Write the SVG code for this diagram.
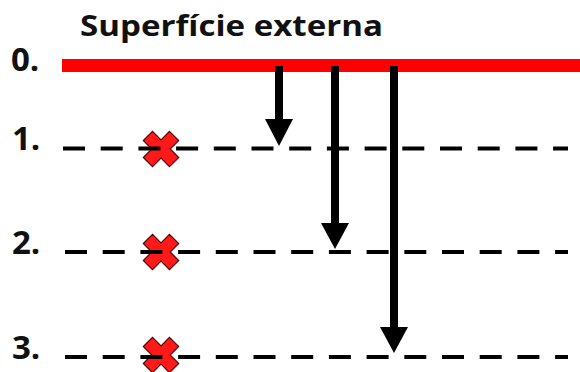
<svg xmlns="http://www.w3.org/2000/svg" width="580" height="372" viewBox="0 0 580 372">
<defs>
<style>
.lbl{font-family:"Open Sans","Liberation Sans",Arial,sans-serif;font-weight:bold;fill:#111}
.dash{stroke:#000;stroke-width:4;stroke-dasharray:22 15.7;fill:none}
.shaft{stroke:#000;stroke-width:8;fill:none}
.head{fill:#000}
.x{fill:#ff1a1a;stroke:#5a0000;stroke-width:1.2}
</style>
<polygon id="cross" class="x" transform="rotate(45)" points="-6.5,-18.5 6.5,-18.5 6.5,-6.5 18.5,-6.5 18.5,6.5 6.5,6.5 6.5,18.5 -6.5,18.5 -6.5,6.5 -18.5,6.5 -18.5,-6.5 -6.5,-6.5"/>
</defs>
<rect width="580" height="372" fill="#fff"/>
<text class="lbl" x="80" y="36" font-size="29" textLength="303" lengthAdjust="spacingAndGlyphs">Superfície externa</text>
<g id="level0">
<text class="lbl" x="11" y="71" font-size="33">0.</text>
<line x1="62" y1="65.5" x2="580" y2="65.5" stroke="#ff0000" stroke-width="13"/>
</g>
<g id="marker1"><use href="#cross" x="161" y="149"/></g>
<g id="marker2"><use href="#cross" x="161" y="252"/></g>
<g id="marker3"><use href="#cross" x="161" y="355"/></g>
<g id="level1">
<text class="lbl" x="12" y="150" font-size="33">1.</text>
<line class="dash" x1="63" y1="148.5" x2="568" y2="148.5"/>
</g>
<g id="level2">
<text class="lbl" x="12" y="254" font-size="33">2.</text>
<line class="dash" x1="65" y1="252" x2="568" y2="252"/>
</g>
<g id="level3">
<text class="lbl" x="12" y="359" font-size="33">3.</text>
<line class="dash" x1="65" y1="357" x2="568" y2="357"/>
</g>
<g id="connectors">
<line class="shaft" x1="279" y1="66" x2="279" y2="121"/>
<polygon class="head" points="265,119 293,119 279,146"/>
<line class="shaft" x1="335" y1="66" x2="335" y2="225"/>
<polygon class="head" points="321,223 349,223 335,249"/>
<line class="shaft" x1="394" y1="66" x2="394" y2="329"/>
<polygon class="head" points="380,327 408,327 394,353"/>
</g>
</svg>
